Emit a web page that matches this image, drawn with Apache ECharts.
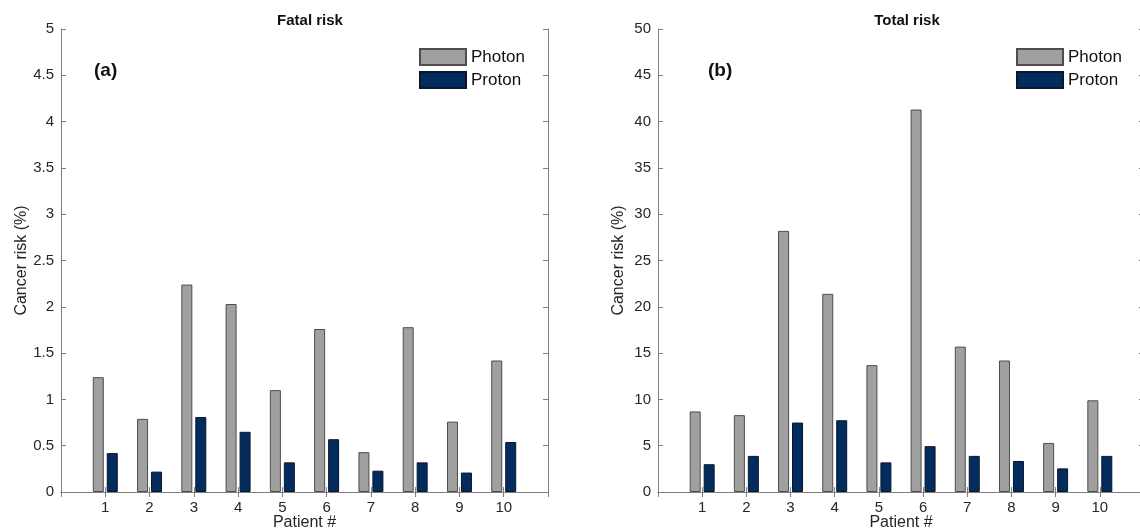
<!DOCTYPE html>
<html>
<head>
    <meta charset="utf-8">
    <title>Cancer risk</title>
    <style>
        html,body{ margin:0; padding:0; background:#fff; }
    </style>
</head>
<body>
<script src="https://cdn.jsdelivr.net/npm/echarts@6/dist/echarts.min.js"></script>
<div id="main" style="width: 1140px;height:532px;"></div>
<script type="text/javascript">
    var myChart = echarts.init(document.getElementById('main'));

    // patients 1..10, with an empty slot at each end (axis runs 0..11)
    var patients = ['', '1', '2', '3', '4', '5', '6', '7', '8', '9', '10', ''];
    // fatal risk (%)
    var fatalPhoton = [1.24, 0.79, 2.24, 2.03, 1.10, 1.76, 0.43, 1.78, 0.76, 1.42];
    var fatalProton = [0.42, 0.22, 0.81, 0.65, 0.32, 0.57, 0.23, 0.32, 0.21, 0.54];
    // total risk (%)
    var totalPhoton = [8.7, 8.3, 28.2, 21.4, 13.7, 41.3, 15.7, 14.2, 5.3, 9.9];
    var totalProton = [3.0, 3.9, 7.5, 7.75, 3.2, 4.95, 3.9, 3.35, 2.55, 3.9];

    function pad(arr) {
        return [null].concat(arr).concat([null]);
    }

    var font = 'Liberation Sans, Arial, sans-serif';
    var lineColor = '#7f7f7f';
    var textColor = '#262626';

    function xAxes(grid) {
        return [{
            type: 'category', gridIndex: grid, data: patients, boundaryGap: false,
            name: 'Patient #', nameLocation: 'middle', nameGap: 23, nameMoveOverlap: false,
            nameTextStyle: { fontSize: 16, color: textColor, fontFamily: font },
            axisLine: { lineStyle: { color: lineColor } },
            axisTick: { inside: true, length: 5, interval: 0, lineStyle: { color: lineColor } },
            axisLabel: { interval: 0, fontSize: 15, color: textColor, fontFamily: font, margin: 8 },
            splitLine: { show: false }
        }, {
            type: 'category', gridIndex: grid, data: patients, boundaryGap: false, position: 'top',
            axisLine: { lineStyle: { color: lineColor } },
            axisTick: { inside: true, length: 5, interval: 0, lineStyle: { color: lineColor } },
            axisLabel: { show: false },
            splitLine: { show: false }
        }];
    }

    function yAxes(grid, max, step) {
        return [{
            type: 'value', gridIndex: grid, min: 0, max: max, interval: step,
            name: 'Cancer risk (%)', nameLocation: 'middle', nameGap: 31,
            nameTextStyle: { fontSize: 16, color: textColor, fontFamily: font },
            axisLine: { show: true, lineStyle: { color: lineColor } },
            axisTick: { show: true, inside: true, length: 5, lineStyle: { color: lineColor } },
            axisLabel: { fontSize: 15, color: textColor, fontFamily: font, margin: 7 },
            splitLine: { show: false }
        }, {
            type: 'value', gridIndex: grid, min: 0, max: max, interval: step, position: 'right',
            axisLine: { show: true, lineStyle: { color: lineColor } },
            axisTick: { show: true, inside: true, length: 5, lineStyle: { color: lineColor } },
            axisLabel: { show: false },
            splitLine: { show: false }
        }];
    }

    function bars(name, data, xi, yi) {
        var photon = name === 'Photon';
        return {
            name: name, type: 'bar', xAxisIndex: xi, yAxisIndex: yi,
            data: pad(data), barWidth: 11, barGap: '27%',
            itemStyle: {
                color: photon ? '#a0a0a0' : '#022c5e',
                borderColor: photon ? '#4d4d4d' : '#0d1526',
                borderWidth: 1
            },
            emphasis: { disabled: true },
            animation: false
        };
    }

    function legend(left) {
        return {
            orient: 'vertical', left: left, top: 48, itemGap: 5, padding: 0,
            itemWidth: 46, itemHeight: 16, selectedMode: false, icon: 'rect',
            data: ['Photon', 'Proton'],
            textStyle: { fontSize: 17, color: '#111', fontFamily: font }
        };
    }

    myChart.setOption({
        animation: false,
        textStyle: { fontFamily: font },
        title: [{
            text: 'Fatal risk', left: 305, top: 8, textAlign: 'center',
            textStyle: { fontSize: 15, fontWeight: 'bold', color: '#111', fontFamily: font }
        }, {
            text: 'Total risk', left: 902, top: 8, textAlign: 'center',
            textStyle: { fontSize: 15, fontWeight: 'bold', color: '#111', fontFamily: font }
        }],
        legend: [legend(419), legend(1016)],
        graphic: [{
            type: 'text', left: 94, top: 61,
            style: { text: '(a)', fill: '#111', font: 'bold 19px Liberation Sans, Arial, sans-serif' }
        }, {
            type: 'text', left: 708, top: 61,
            style: { text: '(b)', fill: '#111', font: 'bold 19px Liberation Sans, Arial, sans-serif' }
        }],
        grid: [
            { left: 61, top: 29, width: 487, height: 463, outerBoundsMode: 'none', containLabel: false },
            { left: 658, top: 29, width: 486, height: 463, outerBoundsMode: 'none', containLabel: false }
        ],
        xAxis: xAxes(0).concat(xAxes(1)),
        yAxis: yAxes(0, 5, 0.5).concat(yAxes(1, 50, 5)),
        series: [
            bars('Photon', fatalPhoton, 0, 0),
            bars('Proton', fatalProton, 0, 0),
            bars('Photon', totalPhoton, 2, 2),
            bars('Proton', totalProton, 2, 2)
        ]
    });
</script>
</body>
</html>
